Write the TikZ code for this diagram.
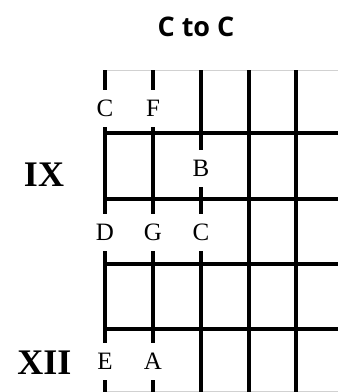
\documentclass[tikz,border=0pt]{standalone}
\usepackage{fontspec}
\setmainfont{Liberation Serif}
\newfontfamily\titlefont{Open Sans}
\usetikzlibrary{positioning}

\begin{document}
\begin{tikzpicture}[x=1pt,y=-1pt,
  string/.style={line width=4.2pt},
  fret/.style={line width=4.2pt},
  edge/.style={black!18,line width=1pt},
  note/.style={fill=white,inner sep=0pt,minimum height=37pt,minimum width=20pt,
               font=\fontsize{25}{25}\selectfont},
  roman/.style={font=\bfseries\fontsize{36}{36}\selectfont},
  title/.style={font=\titlefont\bfseries\fontsize{27}{27}\selectfont}
]
\useasboundingbox (0,0) rectangle (338,392);
\node[title] (ttl) at (196,27) {C to C};
% nut and bottom edge
\draw[edge] (105,70) -- (338,70);
\draw[edge] (105,391) -- (338,391);
% strings
\foreach \x [count=\i] in {105,153,201,249,296}
  \draw[string] (\x,70) coordinate (top\i) -- (\x,392) coordinate (bot\i);
% frets
\foreach \y [count=\j] in {133,199,264,329}
  \draw[fret] (103,\y) coordinate (f\j) -- (338,\y);
% notes
\node[note] (c1) at (105,108) {C};
\node[note] (f1) at (153,108) {F};
\node[note] (b1) at (201,168) {B};
\node[note] (d1) at (105,232) {D};
\node[note] (g1) at (153,232) {G};
\node[note] (c2) at (201,232) {C};
\node[note] (e1) at (105,361) {E};
\node[note] (a1) at (153,361) {A};
% positions
\node[roman] (ix)  at (44,174.5)  {IX};
\node[roman] (xii) at (44.5,362.5) {XII};
\end{tikzpicture}
\end{document}
